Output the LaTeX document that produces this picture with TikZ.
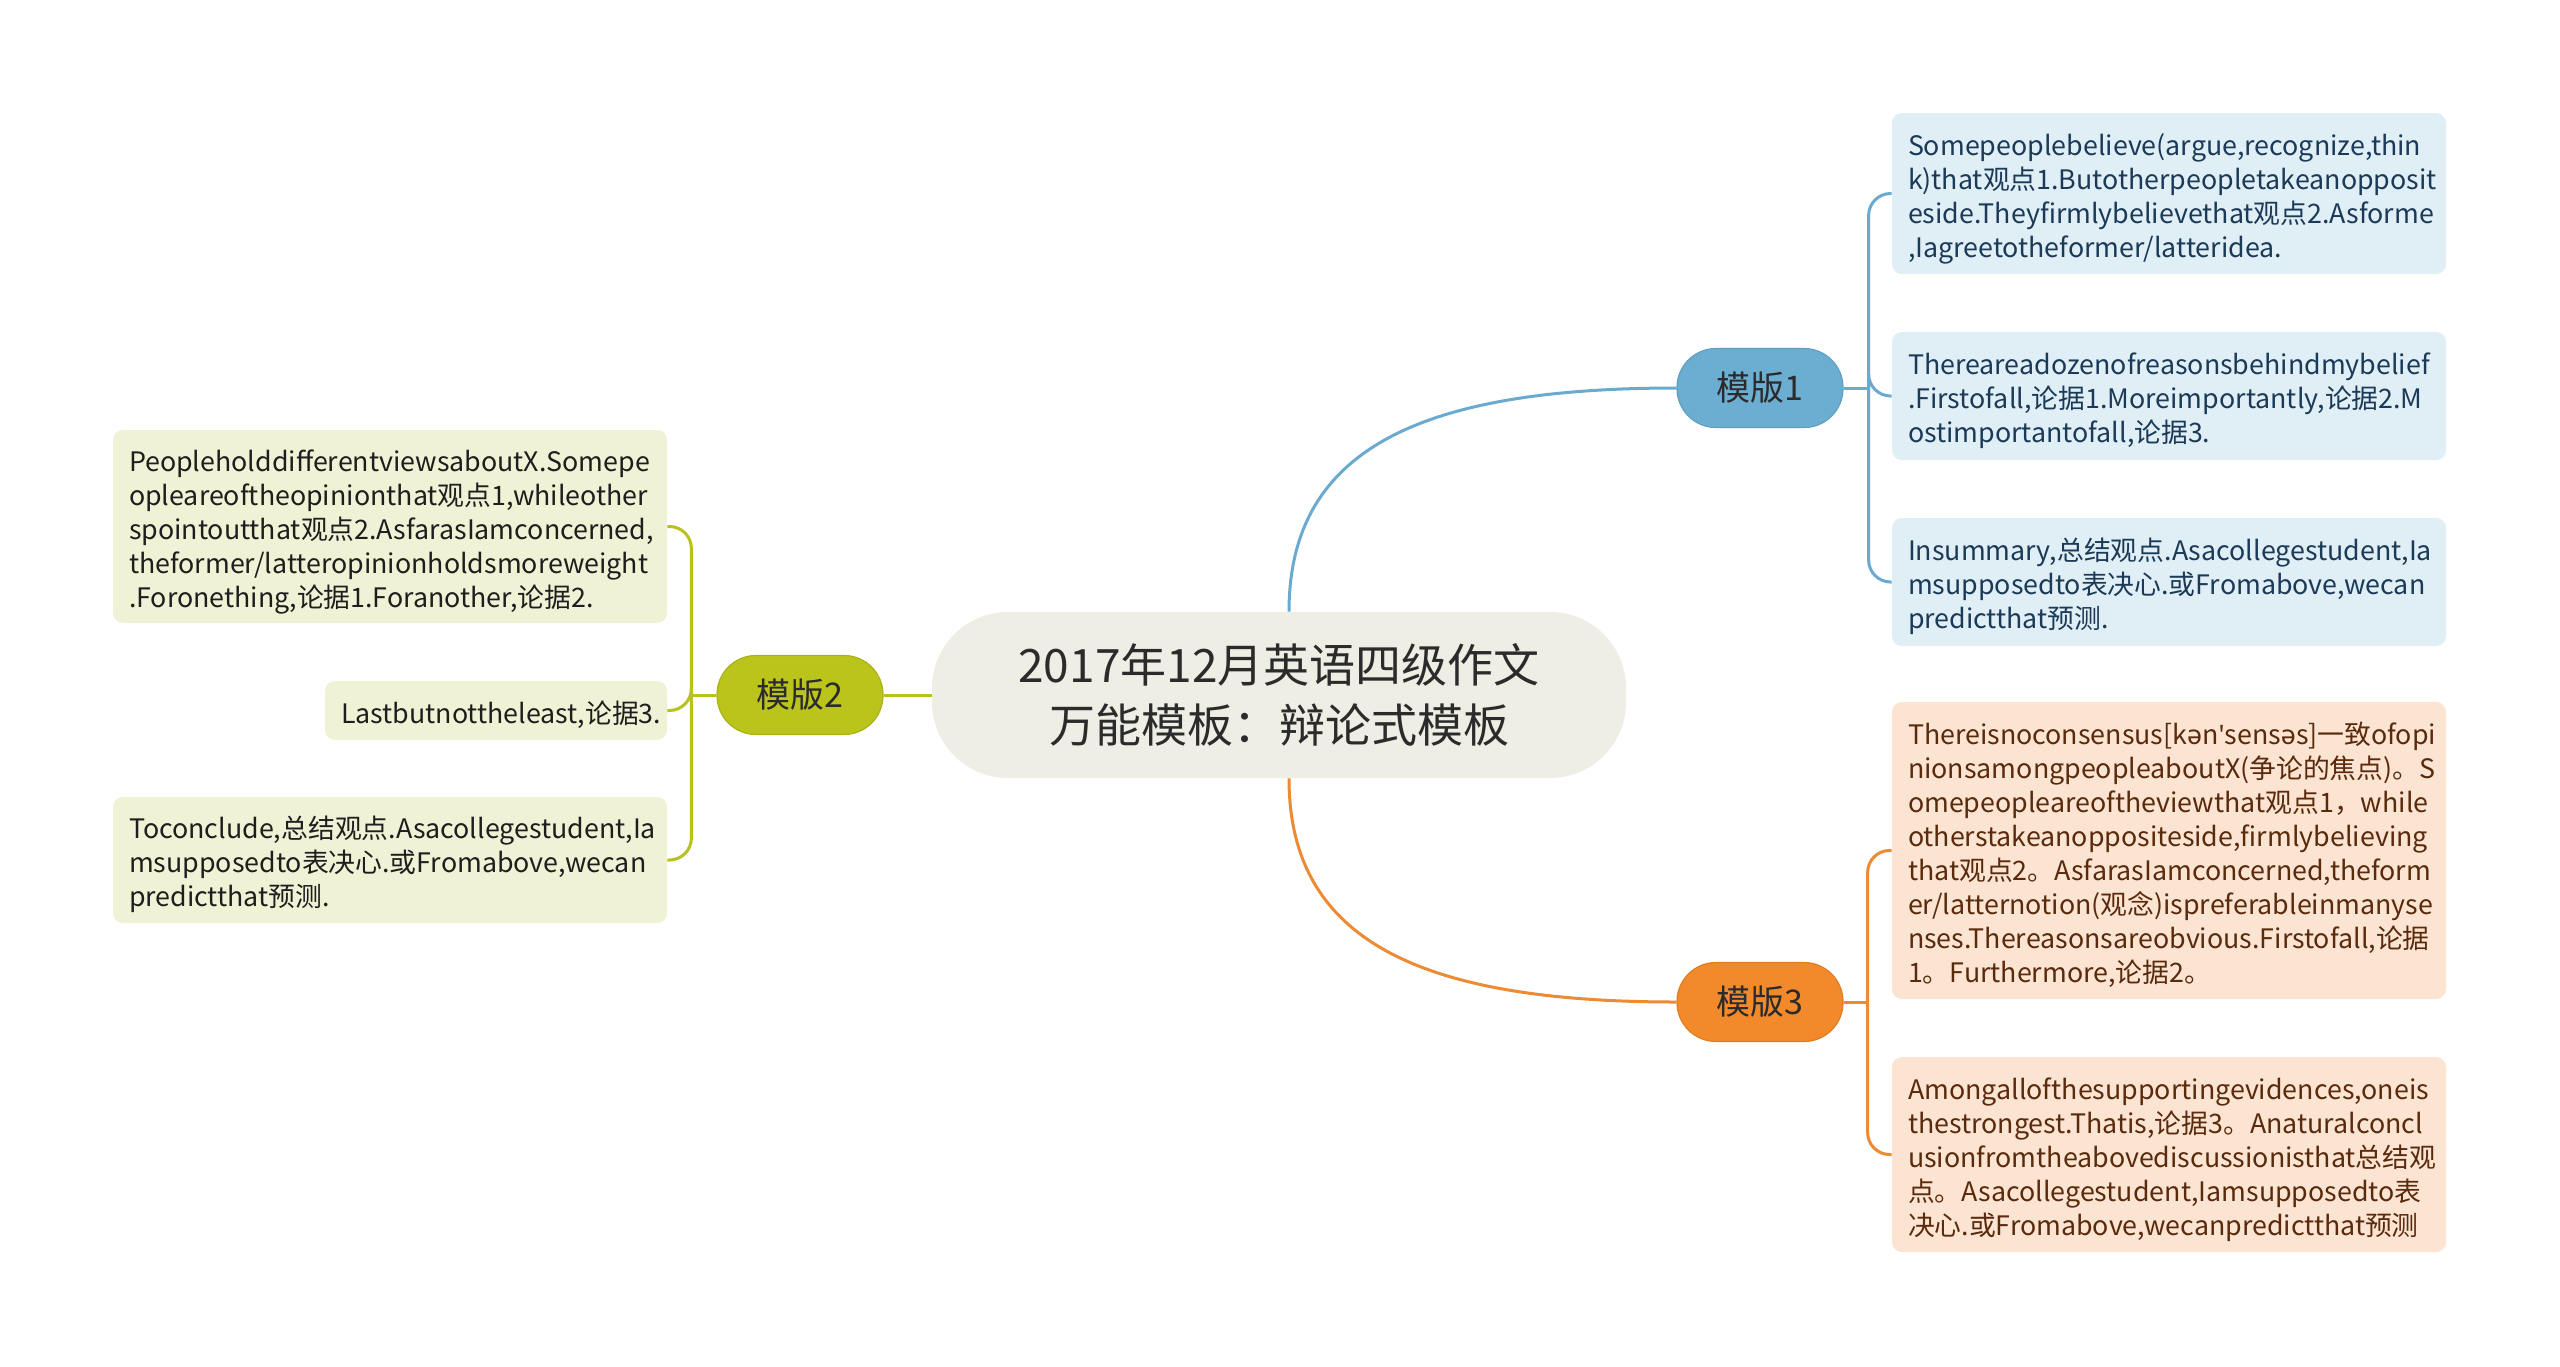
\documentclass[tikz,border=0pt]{standalone}
\usepackage{fontspec}
\setmainfont{Noto Sans CJK SC}
\newfontfamily\ipafont{Noto Sans}
\usetikzlibrary{calc}
\definecolor{rootfill}{HTML}{EEEEE4}
\definecolor{roottext}{HTML}{2B2B2B}
\definecolor{blueC}{HTML}{6BAED2}
\definecolor{blueB}{HTML}{5E9FC4}
\definecolor{blueL}{HTML}{6BAAD0}
\definecolor{blueBox}{HTML}{E0EEF6}
\definecolor{blueText}{HTML}{1B3A57}
\definecolor{greenC}{HTML}{BAC41B}
\definecolor{greenB}{HTML}{A9B318}
\definecolor{greenL}{HTML}{B8C11E}
\definecolor{greenBox}{HTML}{F0F2D5}
\definecolor{greenText}{HTML}{1E1E1E}
\definecolor{orangeC}{HTML}{F28A2C}
\definecolor{orangeB}{HTML}{E07D22}
\definecolor{orangeL}{HTML}{EC8B34}
\definecolor{orangeBox}{HTML}{FCE4D3}
\definecolor{orangeText}{HTML}{5A2A0C}
\begin{document}
\begin{tikzpicture}[x=0.5pt,y=-0.5pt,
  root/.style={fill=rootfill, rounded corners=38pt, minimum width=347pt, minimum height=83pt,
    align=center, font=\fontsize{23}{30}\selectfont, text=roottext, inner sep=0pt},
  branch/.style={rounded corners=19.5pt, minimum width=83pt, minimum height=39.5pt,
    inner sep=0pt, line width=0.6pt, font=\fontsize{17}{20}\selectfont},
  leaf/.style={rounded corners=5pt, inner xsep=8pt, inner ysep=0pt, align=left,
    font=\fontsize{13.4}{17}\selectfont},
  blueleaf/.style={leaf, fill=blueBox, text=blueText, text width=261pt, minimum height=#1},
  orangeleaf/.style={leaf, fill=orangeBox, text=orangeText, text width=261pt, minimum height=#1},
  greenleaf/.style={leaf, fill=greenBox, text=greenText, minimum height=#1},
  conn/.style={line width=1.5pt},
  bracket/.style={line width=1.5pt, rounded corners=11pt}
]
\newcommand\firststrut{\rule{0pt}{16pt}}
\useasboundingbox (0,0) rectangle (2560,1366);
\fill[white] (0,0) rectangle (2560,1366);

% root and branches
\node[root] (c) at (1279,695) {2017年12月英语四级作文\\万能模板：辩论式模板};
\node[branch, fill=blueC, draw=blueB, text=roottext] (m1) at (1760,388) {模版1};
\node[branch, fill=greenC, draw=greenB, text=roottext] (m2) at (800,695) {模版2};
\node[branch, fill=orangeC, draw=orangeB, text=roottext] (m3) at (1760,1002) {模版3};

% blue leaves
\node[blueleaf=80.5pt] (b1) at (2169,193.5) {\firststrut Somepeoplebelieve(argue,recognize,thin\\k)that观点1.Butotherpeopletakeanopposit\\eside.Theyfirmlybelievethat观点2.Asforme\\,Iagreetotheformer/latteridea.};
\node[blueleaf=64pt] (b2) at (2169,396) {\firststrut Thereareadozenofreasonsbehindmybelief\\.Firstofall,论据1.Moreimportantly,论据2.M\\ostimportantofall,论据3.};
\node[blueleaf=64pt] (b3) at (2169,582) {\firststrut Insummary,总结观点.Asacollegestudent,Ia\\msupposedto表决心.或Fromabove,wecan\\predictthat预测.};

% orange leaves
\node[orangeleaf=148.5pt] (o1) at (2169,850.5) {\firststrut Thereisnoconsensus[k{\ipafont ə}n{\ipafont\char"27}sens{\ipafont ə}s]一致ofopi\\nionsamongpeopleaboutX(争论的焦点)。S\\omepeopleareoftheviewthat观点1，while\\otherstakeanoppositeside,firmlybelieving\\that观点2。AsfarasIamconcerned,theform\\er/latternotion(观念)ispreferableinmanyse\\nses.Thereasonsareobvious.Firstofall,论据\\1。Furthermore,论据2。};
\node[orangeleaf=97.5pt] (o2) at (2169,1154.5) {\firststrut Amongallofthesupportingevidences,oneis\\thestrongest.Thatis,论据3。Anaturalconcl\\usionfromtheabovediscussionisthat总结观\\点。Asacollegestudent,Iamsupposedto表\\决心.或Fromabove,wecanpredictthat预测};

% green leaves
\node[greenleaf=96.5pt, text width=261pt] (g1) at (390,526.5) {\firststrut PeopleholddifferentviewsaboutX.Somepe\\opleareoftheopinionthat观点1,whileother\\spointoutthat观点2.AsfarasIamconcerned,\\theformer/latteropinionholdsmoreweight\\.Foronething,论据1.Foranother,论据2.};
\node[greenleaf=29.5pt, text width=155pt] (g2) at (496,710.5) {\firststrut Lastbutnottheleast,论据3.};
\node[greenleaf=63pt, text width=261pt] (g3) at (390,860) {\firststrut Toconclude,总结观点.Asacollegestudent,Ia\\msupposedto表决心.或Fromabove,wecan\\predictthat预测.};

% junctions
\coordinate (j1) at ($(m1.east)+(25,0)$);
\coordinate (j2) at ($(m2.west)+(-25,0)$);
\coordinate (j3) at ($(m3.east)+(24,0)$);
\coordinate (s1) at ($(c.north)+(10,0)$);
\coordinate (s3) at ($(c.south)+(10,0)$);

% main connectors
\draw[conn, blueL] (s1) .. controls ($(s1)+(0,-162)$) and ($(m1.west)+(-257,0)$) .. (m1.west);
\draw[conn, orangeL] (s3) .. controls ($(s3)+(0,162)$) and ($(m3.west)+(-257,0)$) .. (m3.west);
\draw[conn, greenL] (c.west) -- (m2.east);

% brackets
\draw[conn, blueL] (m1.east) -- (j1);
\draw[bracket, blueL] (j1) |- (b1.west);
\draw[bracket, blueL] (j1) |- (b2.west);
\draw[bracket, blueL] (j1) |- (b3.west);

\draw[conn, orangeL] (m3.east) -- (j3);
\draw[bracket, orangeL] (j3) |- (o1.west);
\draw[bracket, orangeL] (j3) |- (o2.west);

\draw[conn, greenL] (m2.west) -- (j2);
\draw[bracket, greenL] (j2) |- (g1.east);
\draw[bracket, greenL] (j2) |- (g2.east);
\draw[bracket, greenL] (j2) |- (g3.east);
\end{tikzpicture}
\end{document}
